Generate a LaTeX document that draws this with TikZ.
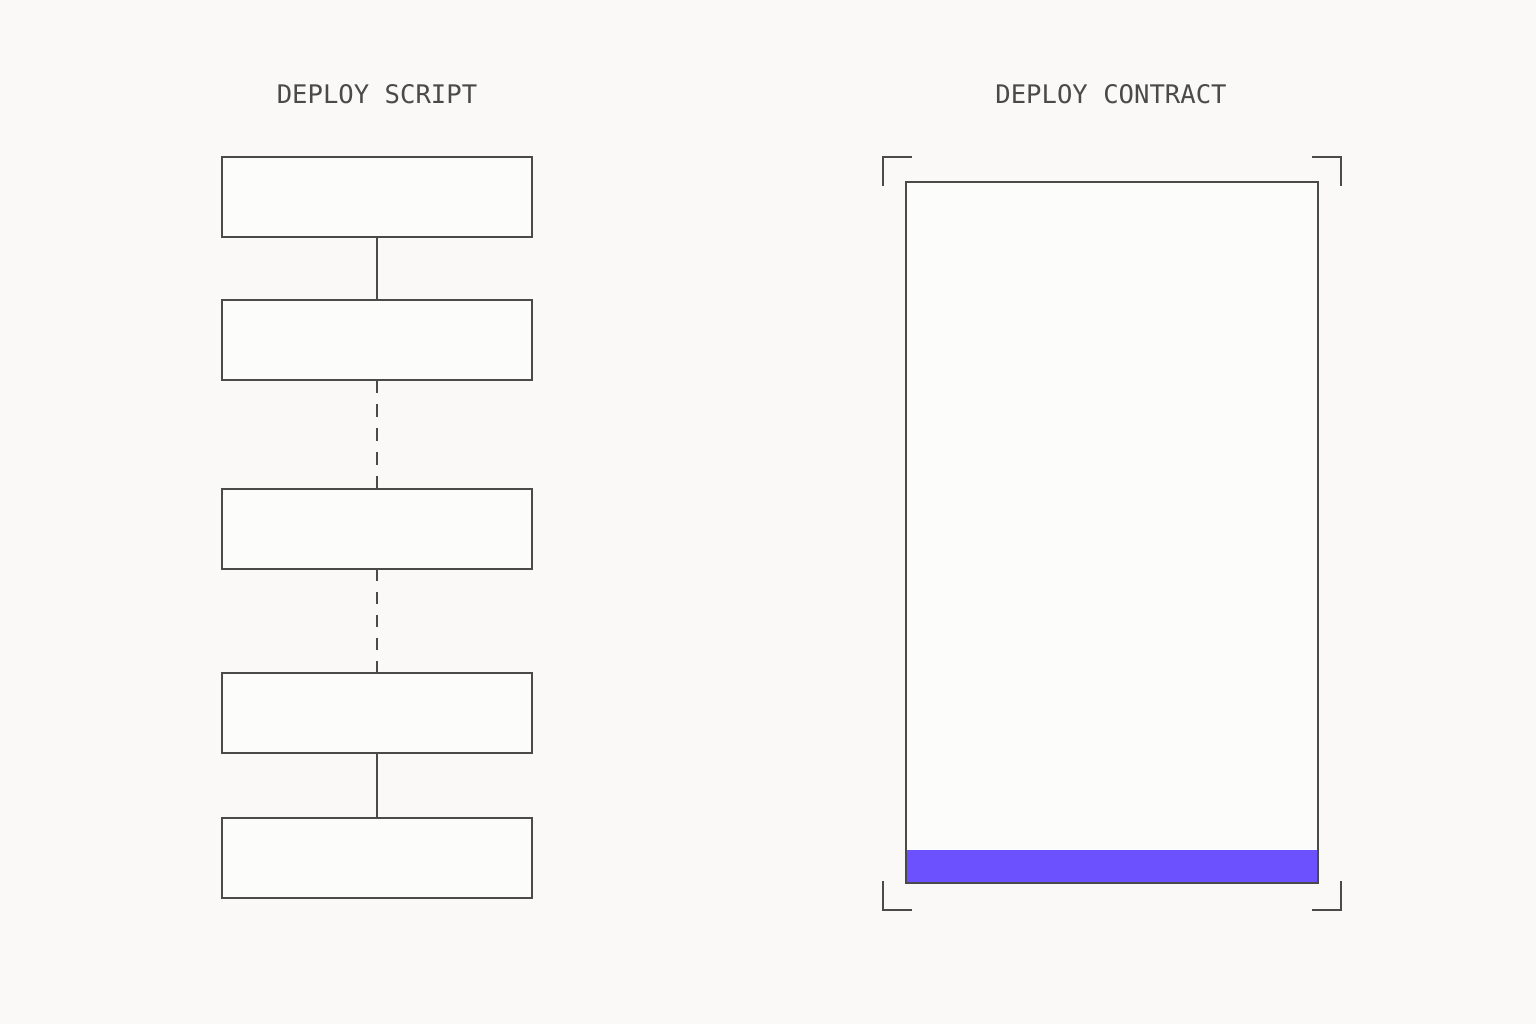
\documentclass[tikz,border=0pt]{standalone}
\usepackage{fontspec}
\newfontfamily\labelfont{DejaVu Sans Mono}
\usepackage{xcolor}
\usepackage{tikz}
\usetikzlibrary{positioning}

\definecolor{paper}{HTML}{FAF9F8}
\definecolor{boxfill}{HTML}{FCFCFB}
\definecolor{ink}{HTML}{4A4A4A}
\definecolor{barpurple}{HTML}{6C52FF}

\begin{document}
\begin{tikzpicture}

\tikzstyle{block} = [draw=ink, line width=1pt, rectangle, fill=boxfill, minimum width=155pt, minimum height=40pt, inner sep=0pt, outer sep=0pt]
\tikzstyle{title} = [text=ink, font=\labelfont\fontsize{12.8}{13}\selectfont, anchor=base]
\tikzstyle{bracket} = [draw=ink, line width=1pt]

\fill[paper] (0pt,0pt) rectangle (768pt,-512pt);
\useasboundingbox (0pt,0pt) rectangle (768pt,-512pt);

\node [title] (script-title) at (188.5pt,-51.5pt) {DEPLOY SCRIPT};
\node [title] (contract-title) at (555.5pt,-51.5pt) {DEPLOY CONTRACT};

% deploy script steps
\node [block] (step1) at (188.5pt,-98.5pt) {};
\node [block, below = 31.5pt of step1] (step2) {};
\node [block, below = 54.5pt of step2] (step3) {};
\node [block, below = 52pt of step3] (step4) {};
\node [block, below = 32.5pt of step4] (step5) {};

\draw [ink, line width=1pt] (step1) -- (step2);
\draw [ink, line width=1pt, dash pattern=on 6.5pt off 5.5pt] (step2) -- (step3);
\draw [ink, line width=1pt, dash pattern=on 6pt off 5.5pt] (step3) -- (step4);
\draw [ink, line width=1pt] (step4) -- (step5);

% deploy contract
\node [block, minimum width=206pt, minimum height=350.5pt,
  path picture={\fill[barpurple] (path picture bounding box.south west) rectangle ([yshift=16.5pt]path picture bounding box.south east);}]
  (contract) at (556pt,-266.25pt) {};

\coordinate (tl) at ([shift={(-11.5pt,12.5pt)}]contract.north west);
\coordinate (tr) at ([shift={(11.5pt,12.5pt)}]contract.north east);
\coordinate (bl) at ([shift={(-11.5pt,-13.5pt)}]contract.south west);
\coordinate (br) at ([shift={(11.5pt,-13.5pt)}]contract.south east);

\draw [bracket] ([yshift=-14.5pt]tl) -- (tl) -- ([xshift=14.5pt]tl);
\draw [bracket] ([xshift=-14.5pt]tr) -- (tr) -- ([yshift=-14.5pt]tr);
\draw [bracket] ([yshift=14.5pt]bl) -- (bl) -- ([xshift=14.5pt]bl);
\draw [bracket] ([xshift=-14.5pt]br) -- (br) -- ([yshift=14.5pt]br);
\end{tikzpicture}
\end{document}
